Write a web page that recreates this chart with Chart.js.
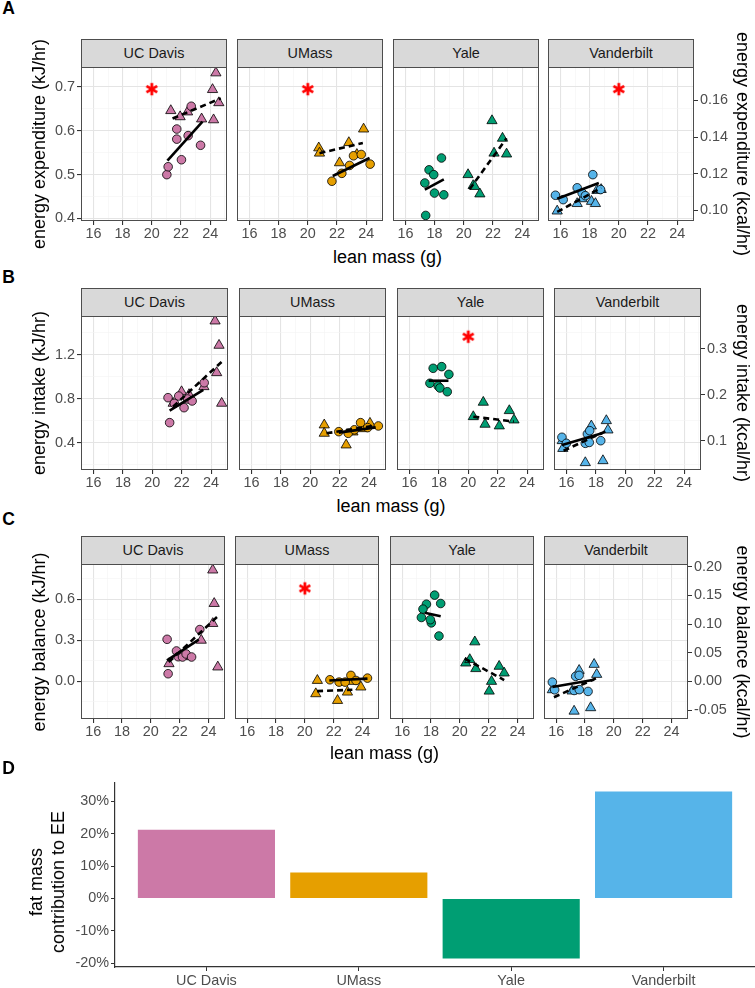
<!DOCTYPE html>
<html>
<head>
<meta charset="utf-8">
<script src="https://cdn.jsdelivr.net/npm/chart.js@4.4.1/dist/chart.umd.min.js"></script>
<style>
  body { margin: 0; background: #fff; }
  #fig { position: relative; width: 755px; height: 988px; overflow: hidden; font-family: "Liberation Sans", Arial, sans-serif; }
  .txt { position: absolute; white-space: nowrap; line-height: 1; transform: translate(-50%, -50%); }
  .strip { position: absolute; box-sizing: border-box; background: #d9d9d9; border: 1px solid #4d4d4d; border-bottom: none;
           color: #1a1a1a; font-size: 14.4px; text-align: center; line-height: 27px; }
</style>
</head>
<body>
<div id="fig"></div>
<script>
const sites = ["UC Davis", "UMass", "Yale", "Vanderbilt"];
const siteColors = ["#CC79A7", "#E69F00", "#009E73", "#56B4E9"];
const massTicks = [16, 18, 20, 22, 24];

// ---- A: energy expenditure (kJ/hr) ----
const eeTicks = [0.4, 0.5, 0.6, 0.7];
const eeKcalTicks = [0.10, 0.12, 0.14, 0.16];
const eeCircles = [
  [[21.03, 0.500], [21.12, 0.518], [21.71, 0.604], [21.71, 0.581], [22.03, 0.534], [22.49, 0.589], [22.70, 0.656], [23.34, 0.567]],
  [[21.65, 0.485], [22.33, 0.503], [22.86, 0.521], [23.13, 0.543], [23.66, 0.546], [24.27, 0.524]],
  [[17.33, 0.481], [17.62, 0.511], [17.94, 0.500], [18.47, 0.538], [17.99, 0.458], [18.63, 0.454], [17.39, 0.407]],
  [[15.66, 0.453], [16.19, 0.443], [17.15, 0.470], [17.49, 0.458], [17.71, 0.452], [18.22, 0.500], [18.75, 0.466]]
];
const eeTriangles = [
  [[21.30, 0.646], [21.94, 0.632], [22.45, 0.643], [23.41, 0.627], [24.16, 0.694], [24.23, 0.625], [24.39, 0.732], [24.59, 0.664]],
  [[20.75, 0.561], [20.80, 0.549], [22.17, 0.527], [22.81, 0.573], [23.36, 0.546], [23.82, 0.604]],
  [[20.29, 0.500], [20.64, 0.475], [20.75, 0.473], [21.10, 0.456], [21.93, 0.623], [22.07, 0.549], [22.65, 0.583], [22.93, 0.547]],
  [[15.78, 0.417], [17.15, 0.434], [17.50, 0.445], [18.13, 0.439], [18.40, 0.434], [18.50, 0.464], [18.79, 0.466]]
];
const eeCircleFit = [[21.07, 0.532, 23.47, 0.621], [21.71, 0.497, 24.23, 0.538], [17.33, 0.466, 18.63, 0.489], [15.78, 0.445, 18.63, 0.481]];
const eeTriangleFit = [[21.42, 0.628, 24.73, 0.674], [20.80, 0.549, 23.77, 0.572], [20.40, 0.467, 22.93, 0.583], [15.78, 0.415, 18.80, 0.470]];
const eeStars = [[20, 0.695], [20, 0.695], null, [20, 0.695]];

// ---- B: energy intake (kJ/hr) ----
const eiTicks = [0.4, 0.8, 1.2];
const eiKcalTicks = [0.1, 0.2, 0.3];
const eiCircles = [
  [[21.07, 0.812], [21.18, 0.585], [21.50, 0.760], [21.80, 0.827], [22.16, 0.721], [22.40, 0.800], [22.71, 0.782], [23.53, 0.948]],
  [[21.94, 0.503], [22.58, 0.488], [23.00, 0.520], [23.42, 0.585], [23.90, 0.540], [24.63, 0.555]],
  [[17.61, 1.079], [18.19, 1.094], [18.68, 1.024], [17.39, 0.943], [17.95, 0.918], [18.07, 0.900], [18.57, 0.866]],
  [[15.69, 0.452], [15.99, 0.397], [17.42, 0.482], [17.58, 0.512], [17.28, 0.397], [17.55, 0.405], [18.33, 0.421]]
];
const eiTriangles = [
  [[21.42, 0.761], [21.99, 0.866], [22.50, 0.840], [23.51, 0.912], [24.27, 1.509], [24.54, 1.288], [24.38, 1.039], [24.72, 0.761]],
  [[20.95, 0.564], [20.95, 0.488], [22.44, 0.382], [22.90, 0.500], [23.60, 0.530], [24.06, 0.579]],
  [[20.34, 0.639], [21.02, 0.770], [21.14, 0.570], [22.11, 0.555], [22.79, 0.694], [23.11, 0.609]],
  [[15.71, 0.421], [15.75, 0.350], [17.69, 0.555], [18.71, 0.603], [18.82, 0.518], [17.28, 0.221], [18.48, 0.239]]
];
const eiCircleFit = [[21.18, 0.694, 23.47, 0.882], [21.94, 0.494, 24.45, 0.542], [17.30, 0.966, 18.65, 0.966], [15.70, 0.382, 18.42, 0.488]];
const eiTriangleFit = [[21.41, 0.730, 24.73, 1.139], [21.10, 0.488, 24.20, 0.555], [20.34, 0.639, 23.10, 0.595], [15.80, 0.330, 18.90, 0.520]];
const eiStars = [null, null, [20, 1.366], null];

// ---- C: energy balance (kJ/hr) ----
const ebTicks = [0.0, 0.3, 0.6];
const ebKcalTicks = [-0.05, 0.00, 0.05, 0.10, 0.15, 0.20];
const ebCircles = [
  [[21.13, 0.307], [21.20, 0.056], [21.78, 0.222], [21.90, 0.180], [22.20, 0.178], [22.45, 0.200], [22.83, 0.178], [23.40, 0.378]],
  [[21.74, 0.012], [22.38, -0.005], [22.80, -0.005], [23.20, 0.044], [23.55, 0.007], [24.35, 0.024]],
  [[18.25, 0.629], [17.68, 0.563], [18.67, 0.568], [17.44, 0.527], [17.33, 0.466], [18.02, 0.427], [17.95, 0.450], [18.55, 0.331]],
  [[15.73, -0.005], [15.89, -0.061], [17.35, 0.037], [17.59, 0.044], [17.24, -0.066], [17.60, -0.060], [18.21, -0.073]]
];
const ebTriangles = [
  [[21.26, 0.129], [21.90, 0.200], [22.60, 0.180], [23.50, 0.300], [24.30, 0.422], [24.40, 0.568], [24.30, 0.812], [24.65, 0.105]],
  [[20.87, 0.007], [20.76, -0.090], [22.27, -0.139], [22.96, -0.078], [23.30, 0.000], [23.89, -0.041]],
  [[21.04, 0.288], [20.41, 0.134], [20.69, 0.159], [21.11, 0.093], [22.20, 0.000], [22.04, -0.071], [22.73, 0.110], [23.08, 0.061]],
  [[15.73, -0.061], [17.10, -0.070], [17.59, 0.080], [18.63, 0.124], [18.81, 0.051], [17.24, -0.217], [18.39, -0.192]]
];
const ebCircleFit = [[21.12, 0.154, 23.33, 0.305], [21.70, 0.007, 24.35, 0.020], [17.56, 0.500, 18.67, 0.475], [15.73, -0.041, 18.63, 0.012]];
const ebTriangleFit = [[21.24, 0.141, 24.60, 0.470], [20.85, -0.071, 23.30, -0.061], [20.34, 0.166, 23.08, 0.010], [15.84, -0.115, 18.86, 0.027]];
const ebStars = [null, [20, 0.678], null, null];

// ---- D: fat mass contribution to EE (%) ----
const fatShare = [21.2, 8.0, -18.5, 33.0];
const fatTicks = [-20, -10, 0, 10, 20, 30];

const fig = document.getElementById("fig");
Chart.defaults.font.family = '"Liberation Sans", Arial, sans-serif';
Chart.defaults.font.size = 14.4;
Chart.defaults.color = "#4d4d4d";

const near = (a, b) => Math.abs(a - b) < 1e-6;
const isMajor = (v, list) => list.some((m) => near(m, v));
function withMinor(major, min, max) {
  const step = major[1] - major[0];
  const out = [];
  for (let k = -2; k <= major.length * 2; k++) {
    const v = +(major[0] + (k * step) / 2).toFixed(6);
    if (v >= min - 1e-9 && v <= max + 1e-9) out.push(v);
  }
  return out;
}

// panel border like theme_bw
Chart.register({
  id: "panelBorder",
  afterDraw(chart, args, opts) {
    if (!opts.on) return;
    const a = chart.chartArea, c = chart.ctx;
    c.save();
    c.strokeStyle = "#4d4d4d";
    c.lineWidth = 1;
    c.strokeRect(a.left + 0.5, a.top + 0.5, a.right - a.left - 1, a.bottom - a.top - 1);
    c.restore();
  }
});

function makeStar() {
  const s = document.createElement("canvas");
  s.width = s.height = 16;
  const c = s.getContext("2d");
  c.strokeStyle = "#ff0000";
  c.lineWidth = 2.8;
  for (let k = 0; k < 3; k++) {
    const a = Math.PI / 2 + (k * Math.PI) / 3;
    c.beginPath();
    c.moveTo(8 + 6.2 * Math.cos(a), 8 + 6.2 * Math.sin(a));
    c.lineTo(8 - 6.2 * Math.cos(a), 8 - 6.2 * Math.sin(a));
    c.stroke();
  }
  return s;
}
const starImg = makeStar();

function txt(s, x, y, size, opts = {}) {
  const d = document.createElement("div");
  d.className = "txt";
  d.textContent = s;
  d.style.left = x + "px";
  d.style.top = y + "px";
  d.style.fontSize = size + "px";
  d.style.color = opts.color || "#000";
  if (opts.bold) d.style.fontWeight = "bold";
  if (opts.rot) d.style.transform = `translate(-50%, -50%) rotate(${opts.rot}deg)`;
  fig.appendChild(d);
}

const rows = [
  { top: 67, height: 154, pitch: 155.8, width: 146, yMin: 0.3943, yMax: 0.7455, ticks: eeTicks, kcal: eeKcalTicks, kdec: 2,
    circles: eeCircles, triangles: eeTriangles, cFit: eeCircleFit, tFit: eeTriangleFit, stars: eeStars },
  { top: 316, height: 154, pitch: 157.8, width: 147, yMin: 0.1545, yMax: 1.5545, ticks: eiTicks, kcal: eiKcalTicks, kdec: 1,
    circles: eiCircles, triangles: eiTriangles, cFit: eiCircleFit, tFit: eiTriangleFit, stars: eiStars },
  { top: 564, height: 155, pitch: 154.4, width: 144, yMin: -0.274, yMax: 0.856, ticks: ebTicks, kcal: ebKcalTicks, kdec: 2,
    circles: ebCircles, triangles: ebTriangles, cFit: ebCircleFit, tFit: ebTriangleFit, stars: ebStars }
];

const xAll = withMinor(massTicks, 15.15, 25.15);
const gridColor = (list) => (c) => (c.tick && isMajor(c.tick.value, list) ? "#e4e4e4" : "#f3f3f3");
const gridWidth = (list) => (c) => (c.tick && isMajor(c.tick.value, list) ? 1.1 : 0.6);
const tickCol = (list) => (c) => (c.tick && isMajor(c.tick.value, list) ? "#333" : "rgba(0,0,0,0)");

function drawFacet(row, i) {
  const left = Math.round(81 + i * row.pitch);
  const lw = i === 0 ? 50 : 0, rw = i === 3 ? 46 : 0, pad = 12, bh = 26;
  const W = pad + lw + row.width + rw + pad, H = pad + row.height + bh;
  const cv = document.createElement("canvas");
  cv.width = W;
  cv.height = H;
  cv.style.cssText = `position:absolute;left:${left - lw - pad}px;top:${row.top - pad}px;width:${W}px;height:${H}px`;
  fig.appendChild(cv);

  const yAll = withMinor(row.ticks, row.yMin, row.yMax);
  const col = siteColors[i];
  const fitLine = (f, dash) => ({
    data: [{ x: f[0], y: f[1] }, { x: f[2], y: f[3] }],
    showLine: true, borderColor: "#000", borderWidth: 2.6, borderDash: dash, pointRadius: 0
  });
  const pts = (arr) => arr.map(([x, y]) => ({ x, y }));
  const datasets = [
    fitLine(row.cFit[i], []),
    fitLine(row.tFit[i], [6, 4]),
    { data: pts(row.circles[i]), pointStyle: "circle", pointRadius: 4.3, backgroundColor: col, borderColor: "#000", borderWidth: 0.8 },
    { data: pts(row.triangles[i]), pointStyle: "triangle", pointRadius: 5.9, backgroundColor: col, borderColor: "#000", borderWidth: 0.8 }
  ];
  if (row.stars[i]) datasets.push({ data: [{ x: row.stars[i][0], y: row.stars[i][1] }], pointStyle: starImg, pointRadius: 7 });

  const scales = {
    x: {
      type: "linear", min: 15.15, max: 25.15,
      afterBuildTicks: (s) => { s.ticks = xAll.map((v) => ({ value: v })); },
      afterFit: (s) => { s.height = bh; s.paddingLeft = 0; s.paddingRight = 0; },
      ticks: { autoSkip: false, maxRotation: 0, padding: 0, callback: (v) => (isMajor(v, massTicks) ? String(Math.round(v)) : "") },
      grid: { color: gridColor(massTicks), lineWidth: gridWidth(massTicks), tickLength: 4, tickColor: tickCol(massTicks) },
      border: { display: false }
    },
    y: {
      type: "linear", min: row.yMin, max: row.yMax,
      afterBuildTicks: (s) => { s.ticks = yAll.map((v) => ({ value: v })); },
      afterFit: (s) => { s.width = lw; s.paddingTop = 0; s.paddingBottom = 0; },
      ticks: { display: i === 0, autoSkip: false, padding: 2, callback: (v) => (isMajor(v, row.ticks) ? v.toFixed(1) : "") },
      grid: { color: gridColor(row.ticks), lineWidth: gridWidth(row.ticks), drawTicks: i === 0, tickLength: 4, tickColor: tickCol(row.ticks) },
      border: { display: false }
    }
  };
  if (i === 3) {
    scales.y2 = {
      type: "linear", position: "right", min: row.yMin / 4.184, max: row.yMax / 4.184,
      afterBuildTicks: (s) => { s.ticks = row.kcal.map((v) => ({ value: v })); },
      afterFit: (s) => { s.width = rw; s.paddingTop = 0; s.paddingBottom = 0; },
      ticks: { autoSkip: false, padding: 2, callback: (v) => v.toFixed(row.kdec) },
      grid: { drawOnChartArea: false, tickLength: 4, tickColor: "#333" },
      border: { display: false }
    };
  }

  new Chart(cv, {
    type: "scatter",
    data: { datasets },
    options: {
      responsive: false, animation: false, events: [],
      layout: { padding: { left: pad, right: pad, top: pad, bottom: 0 } },
      plugins: { legend: { display: false }, tooltip: { enabled: false }, panelBorder: { on: true } },
      scales
    }
  });

  const st = document.createElement("div");
  st.className = "strip";
  st.textContent = sites[i];
  st.style.left = left + "px";
  st.style.top = row.top - 28 + "px";
  st.style.width = row.width + "px";
  st.style.height = "28px";
  fig.appendChild(st);
}

rows.forEach((row) => sites.forEach((_, i) => drawFacet(row, i)));

// ---- D bar chart ----
const cvD = document.createElement("canvas");
cvD.width = 755;
cvD.height = 218;
cvD.style.cssText = "position:absolute;left:0;top:770px;width:755px;height:218px";
fig.appendChild(cvD);
new Chart(cvD, {
  type: "bar",
  data: {
    datasets: [{
      data: fatShare.map((v, k) => ({ x: k, y: v })),
      backgroundColor: siteColors, barPercentage: 0.9, categoryPercentage: 1
    }]
  },
  options: {
    responsive: false, animation: false, events: [],
    layout: { padding: { top: 13, left: 0, right: 0, bottom: 0 } },
    plugins: { legend: { display: false }, tooltip: { enabled: false } },
    scales: {
      x: {
        type: "linear", min: -0.6, max: 3.6, offset: false,
        afterBuildTicks: (s) => { s.ticks = sites.map((_, k) => ({ value: k })); },
        afterFit: (s) => { s.height = 21; s.paddingLeft = 0; s.paddingRight = 0; },
        ticks: { autoSkip: false, maxRotation: 0, padding: 1, callback: (v) => sites[v] },
        grid: { offset: false, drawOnChartArea: false, tickLength: 4, tickColor: "#333" },
        border: { display: true, color: "#333", width: 1.2 }
      },
      y: {
        type: "linear", min: -21.1, max: 35.6,
        afterBuildTicks: (s) => { s.ticks = fatTicks.map((v) => ({ value: v })); },
        afterFit: (s) => { s.width = 115; s.paddingTop = 0; s.paddingBottom = 0; },
        ticks: { autoSkip: false, padding: 2, callback: (v) => v + "%" },
        grid: { drawOnChartArea: false, tickLength: 4, tickColor: "#333" },
        border: { display: true, color: "#333", width: 1.2 }
      }
    }
  }
});

// ---- texts ----
txt("A", 8.5, 9, 17.5, { bold: true });
txt("B", 8.5, 277.5, 17.5, { bold: true });
txt("C", 8.5, 520, 17.5, { bold: true });
txt("D", 8.5, 768.5, 17.5, { bold: true });

txt("energy expenditure (kJ/hr)", 39, 144, 18, { rot: -90 });
txt("energy expenditure (kcal/hr)", 742.5, 144, 18, { rot: 90 });
txt("lean mass (g)", 387.5, 257, 18);

txt("energy intake (kJ/hr)", 39, 393, 18, { rot: -90 });
txt("energy intake (kcal/hr)", 742.5, 393, 18, { rot: 90 });
txt("lean mass (g)", 391, 505.5, 18);

txt("energy balance (kJ/hr)", 39, 641.5, 18, { rot: -90 });
txt("energy balance (kcal/hr)", 742.5, 641.5, 18, { rot: 90 });
txt("lean mass (g)", 384.5, 752.5, 18);

txt("fat mass", 36, 882, 18, { rot: -90 });
txt("contribution to EE", 57.5, 882, 18, { rot: -90 });
</script>
</body>
</html>
